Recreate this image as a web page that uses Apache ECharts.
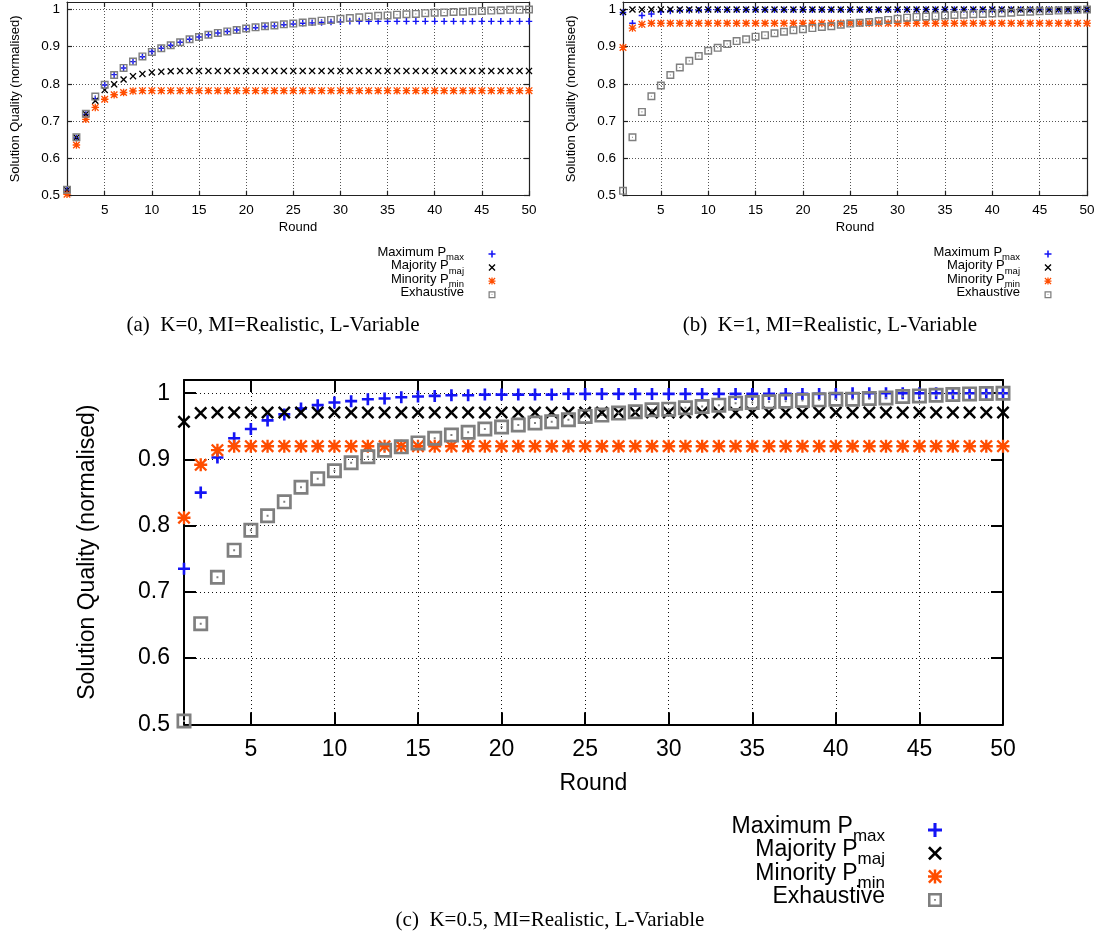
<!DOCTYPE html>
<html>
<head>
<meta charset="utf-8">
<title>Solution quality per round</title>
<script src="https://cdn.jsdelivr.net/npm/echarts@6.0.0/dist/echarts.min.js"></script>
<style>
  html, body { margin: 0; padding: 0; background: #fff; }
  #chart { width: 1100px; height: 938px; }
</style>
</head>
<body>
<div id="chart"></div>
<script>
// ============================================================
//  data
// ============================================================
const rounds = [
  1, 2, 3, 4, 5, 6, 7, 8, 9, 10,
  11, 12, 13, 14, 15, 16, 17, 18, 19, 20,
  21, 22, 23, 24, 25, 26, 27, 28, 29, 30,
  31, 32, 33, 34, 35, 36, 37, 38, 39, 40,
  41, 42, 43, 44, 45, 46, 47, 48, 49, 50
];
const xTicks = [5, 10, 15, 20, 25, 30, 35, 40, 45, 50];
const yTicks = [0.5, 0.6, 0.7, 0.8, 0.9, 1];
const seriesNames = ['Maximum P_max', 'Majority P_maj', 'Minority P_min', 'Exhaustive'];
const captions = [
  '(a)  K=0, MI=Realistic, L-Variable',
  '(b)  K=1, MI=Realistic, L-Variable',
  '(c)  K=0.5, MI=Realistic, L-Variable'
];

// (a) K=0
const maxK0 = [
  0.515, 0.655, 0.718, 0.760, 0.797, 0.825, 0.843, 0.860, 0.873, 0.887,
  0.896, 0.904, 0.912, 0.920, 0.926, 0.932, 0.937, 0.941, 0.945, 0.948,
  0.951, 0.954, 0.956, 0.959, 0.961, 0.963, 0.964, 0.965, 0.966, 0.967,
  0.968, 0.968, 0.968, 0.968, 0.968, 0.968, 0.968, 0.968, 0.968, 0.968,
  0.968, 0.968, 0.968, 0.968, 0.968, 0.968, 0.968, 0.968, 0.968, 0.968
];
const majK0 = [
  0.515, 0.656, 0.719, 0.755, 0.784, 0.799, 0.812, 0.821, 0.827, 0.831,
  0.833, 0.834, 0.835, 0.835, 0.835, 0.835, 0.835, 0.835, 0.835, 0.835,
  0.835, 0.835, 0.835, 0.835, 0.835, 0.835, 0.835, 0.835, 0.835, 0.835,
  0.835, 0.835, 0.835, 0.835, 0.835, 0.835, 0.835, 0.835, 0.835, 0.835,
  0.835, 0.835, 0.835, 0.835, 0.835, 0.835, 0.835, 0.835, 0.835, 0.835
];
const minK0 = [
  0.504, 0.636, 0.705, 0.737, 0.759, 0.771, 0.777, 0.781, 0.782, 0.782,
  0.782, 0.782, 0.782, 0.782, 0.782, 0.782, 0.782, 0.782, 0.782, 0.782,
  0.782, 0.782, 0.782, 0.782, 0.782, 0.782, 0.782, 0.782, 0.782, 0.782,
  0.782, 0.782, 0.782, 0.782, 0.782, 0.782, 0.782, 0.782, 0.782, 0.782,
  0.782, 0.782, 0.782, 0.782, 0.782, 0.782, 0.782, 0.782, 0.782, 0.782
];
const exhK0 = [
  0.516, 0.657, 0.720, 0.766, 0.798, 0.824, 0.843, 0.860, 0.874, 0.886,
  0.896, 0.904, 0.912, 0.920, 0.926, 0.932, 0.937, 0.941, 0.945, 0.949,
  0.952, 0.955, 0.957, 0.960, 0.962, 0.965, 0.967, 0.970, 0.972, 0.975,
  0.977, 0.979, 0.981, 0.983, 0.984, 0.986, 0.987, 0.988, 0.990, 0.991,
  0.992, 0.993, 0.994, 0.995, 0.996, 0.997, 0.998, 0.999, 0.999, 1.000
];

// (b) K=1
const maxK1 = [
  0.992, 0.963, 0.984, 0.988, 0.994, 0.996, 0.997, 0.998, 0.998, 0.999,
  0.999, 0.999, 0.999, 0.999, 0.999, 0.999, 0.999, 0.999, 0.999, 0.999,
  0.999, 0.999, 0.999, 0.999, 0.999, 0.999, 0.999, 0.999, 0.999, 0.999,
  1.000, 1.000, 1.000, 1.000, 1.000, 1.000, 1.000, 1.000, 1.000, 1.000,
  1.000, 1.000, 1.000, 1.000, 1.000, 1.000, 1.000, 1.000, 1.000, 1.000
];
const majK1 = [
  0.993, 1.000, 1.000, 1.000, 1.000, 1.000, 1.000, 1.000, 1.000, 1.000,
  1.000, 1.000, 1.000, 1.000, 1.000, 1.000, 1.000, 1.000, 1.000, 1.000,
  1.000, 1.000, 1.000, 1.000, 1.000, 1.000, 1.000, 1.000, 1.000, 1.000,
  1.000, 1.000, 1.000, 1.000, 1.000, 1.000, 1.000, 1.000, 1.000, 1.000,
  1.000, 1.000, 1.000, 1.000, 1.000, 1.000, 1.000, 1.000, 1.000, 1.000
];
const minK1 = [
  0.898, 0.950, 0.960, 0.963, 0.963, 0.963, 0.963, 0.963, 0.963, 0.963,
  0.963, 0.963, 0.963, 0.963, 0.963, 0.963, 0.963, 0.963, 0.963, 0.963,
  0.963, 0.963, 0.963, 0.963, 0.963, 0.963, 0.963, 0.963, 0.963, 0.963,
  0.963, 0.963, 0.963, 0.963, 0.963, 0.963, 0.963, 0.963, 0.963, 0.963,
  0.963, 0.963, 0.963, 0.963, 0.963, 0.963, 0.963, 0.963, 0.963, 0.963
];
const exhK1 = [
  0.513, 0.657, 0.725, 0.767, 0.796, 0.824, 0.844, 0.862, 0.875, 0.889,
  0.897, 0.907, 0.915, 0.920, 0.927, 0.931, 0.936, 0.940, 0.944, 0.947,
  0.950, 0.953, 0.955, 0.959, 0.962, 0.964, 0.966, 0.969, 0.972, 0.975,
  0.978, 0.980, 0.981, 0.982, 0.984, 0.985, 0.986, 0.987, 0.988, 0.989,
  0.990, 0.991, 0.993, 0.994, 0.995, 0.996, 0.997, 0.998, 0.999, 1.000
];

// (c) K=0.5
const maxK05 = [
  0.735, 0.850, 0.903, 0.932, 0.946, 0.959, 0.968, 0.977, 0.982, 0.986,
  0.988, 0.991, 0.992, 0.994, 0.995, 0.996, 0.997, 0.997, 0.998, 0.998,
  0.998, 0.998, 0.998, 0.999, 0.999, 0.999, 0.999, 0.999, 0.999, 0.999,
  0.999, 0.999, 0.999, 0.999, 0.999, 0.999, 0.999, 0.999, 0.999, 0.999,
  1.000, 1.000, 1.000, 1.000, 1.000, 1.000, 1.000, 1.000, 1.000, 1.000
];
const majK05 = [
  0.957, 0.970, 0.971, 0.971, 0.971, 0.971, 0.971, 0.971, 0.971, 0.971,
  0.971, 0.971, 0.971, 0.971, 0.971, 0.971, 0.971, 0.971, 0.971, 0.971,
  0.971, 0.971, 0.971, 0.971, 0.971, 0.971, 0.971, 0.971, 0.971, 0.971,
  0.971, 0.971, 0.971, 0.971, 0.971, 0.971, 0.971, 0.971, 0.971, 0.971,
  0.971, 0.971, 0.971, 0.971, 0.971, 0.971, 0.971, 0.971, 0.971, 0.971
];
const minK05 = [
  0.812, 0.892, 0.914, 0.920, 0.920, 0.920, 0.920, 0.920, 0.920, 0.920,
  0.920, 0.920, 0.920, 0.920, 0.920, 0.920, 0.920, 0.920, 0.920, 0.920,
  0.920, 0.920, 0.920, 0.920, 0.920, 0.920, 0.920, 0.920, 0.920, 0.920,
  0.920, 0.920, 0.920, 0.920, 0.920, 0.920, 0.920, 0.920, 0.920, 0.920,
  0.920, 0.920, 0.920, 0.920, 0.920, 0.920, 0.920, 0.920, 0.920, 0.920
];
const exhK05 = [
  0.505, 0.652, 0.722, 0.763, 0.793, 0.815, 0.836, 0.858, 0.871, 0.883,
  0.895, 0.904, 0.914, 0.919, 0.925, 0.932, 0.937, 0.941, 0.946, 0.949,
  0.952, 0.955, 0.957, 0.960, 0.965, 0.967, 0.970, 0.972, 0.975, 0.976,
  0.978, 0.980, 0.982, 0.985, 0.986, 0.987, 0.988, 0.989, 0.990, 0.991,
  0.991, 0.992, 0.993, 0.995, 0.996, 0.997, 0.998, 0.999, 0.9995, 1.000
];

// ============================================================
//  styles
// ============================================================
const SANS = '"Liberation Sans", Arial, Helvetica, sans-serif';
const SERIF = '"Liberation Serif", "Times New Roman", serif';
const COLORS = ['#1414f5', '#000000', '#ff4d00', '#7f7f7f'];

// gnuplot-like point types, all drawn as filled outlines in a 20x20 box
const SYMBOLS = [
  'path://M7.8,0H12.2V7.8H20V12.2H12.2V20H7.8V12.2H0V7.8H7.8Z',
  'path://M0,2.7L2.7,0L10,7.3L17.3,0L20,2.7L12.7,10L20,17.3L17.3,20L10,12.7L2.7,20L0,17.3L7.3,10Z',
  'path://M8.2,0H11.8V8.2H20V11.8H11.8V20H8.2V11.8H0V8.2H8.2Z M0,2.5L2.5,0L10,7.5L17.5,0L20,2.5L12.5,10L20,17.5L17.5,20L10,12.5L2.5,20L0,17.5L7.5,10Z',
  'path://M0,0H20V20H0Z M3.6,3.6V16.4H16.4V3.6Z M8.7,8.7H11.3V11.3H8.7Z'
];

const SMALL = {
  font: 13.5, nameFont: 13, yMargin: 7, xMargin: 7.5, xNameGap: 25.5, yNameGap: 45.5,
  tickLen: 5, axisWidth: 1.2, axisColor: '#222', gridColor: '#555', dash: [1, 2],
  symbolSize: [6.5, 7, 7.5, 8],
  legendFont: 13, subFont: 9.5, subPad: 7, mainPad: 3.5, itemW: 46, itemH: 7, itemGap: -3.2
};
const BIG = {
  font: 23, nameFont: 23, yMargin: 14, xMargin: 13.5, xNameGap: 47.5, yNameGap: 84.5,
  tickLen: 12, axisWidth: 2, axisColor: '#000', gridColor: '#111', dash: [1, 3],
  symbolSize: [12, 13, 13, 15],
  legendFont: 23, subFont: 17, subPad: 12.5, mainPad: 6.5, itemW: 90, itemH: 14, itemGap: -6.2
};

const panels = [
  { values: [maxK0, majK0, minK0, exhK0], s: SMALL,
    grid: { left: 67, top: 2, width: 462, height: 193.7 },
    legend: { right: 604.5, top: 245.75 }, cap: { x: 273, y: 314.5 } },
  { values: [maxK1, majK1, minK1, exhK1], s: SMALL,
    grid: { left: 623, top: 2, width: 464, height: 193.7 },
    legend: { right: 48.5, top: 245.75 }, cap: { x: 830, y: 314.5 } },
  { values: [maxK05, majK05, minK05, exhK05], s: BIG,
    grid: { left: 184, top: 380, width: 819, height: 344.3 },
    legend: { right: 158, top: 815.25 }, cap: { x: 550, y: 909.5 } }
];

// ============================================================
//  option
// ============================================================
function legendLabel(name) {
  const p = name.split('_');
  return p.length > 1 ? '{t|' + p[0] + '}{s|' + p[1] + '}' : '{t|' + name + '}';
}

function axisBase(s, ticks) {
  return {
    type: 'value',
    axisLine: { show: true, onZero: false, lineStyle: { color: s.axisColor, width: s.axisWidth } },
    axisTick: { show: true, inside: true, length: s.tickLen, customValues: ticks,
      lineStyle: { color: s.axisColor, width: s.axisWidth } }
  };
}

const option = {
  animation: false,
  backgroundColor: '#fff',
  grid: [], xAxis: [], yAxis: [], series: [], legend: [], title: []
};

panels.forEach((p, i) => {
  const s = p.s;
  option.grid.push(Object.assign({ containLabel: false, show: false }, p.grid));

  option.xAxis.push(Object.assign(axisBase(s, xTicks), {
    gridIndex: i, min: 1, max: 50, position: 'bottom',
    name: 'Round', nameLocation: 'middle', nameGap: s.xNameGap,
    nameTextStyle: { color: '#000', fontFamily: SANS, fontSize: s.nameFont },
    axisLabel: { customValues: xTicks, margin: s.xMargin, color: '#000', fontFamily: SANS, fontSize: s.font },
    splitLine: { show: true, lineStyle: { color: s.gridColor, width: 1, type: s.dash } }
  }));
  option.xAxis.push(Object.assign(axisBase(s, xTicks), {
    gridIndex: i, min: 1, max: 50, position: 'top',
    axisLabel: { show: false }, splitLine: { show: false }
  }));

  option.yAxis.push(Object.assign(axisBase(s, yTicks), {
    gridIndex: i, min: 0.5, max: 1.02, position: 'left',
    name: 'Solution Quality (normalised)', nameLocation: 'middle', nameGap: s.yNameGap,
    nameTextStyle: { color: '#000', fontFamily: SANS, fontSize: s.nameFont },
    axisLabel: { customValues: yTicks, margin: s.yMargin, color: '#000', fontFamily: SANS, fontSize: s.font },
    splitLine: { show: true, lineStyle: { color: s.gridColor, width: 1, type: s.dash } }
  }));
  option.yAxis.push(Object.assign(axisBase(s, yTicks), {
    gridIndex: i, min: 0.5, max: 1.02, position: 'right',
    axisLabel: { show: false }, splitLine: { show: false }
  }));

  p.values.forEach((vals, j) => {
    option.series.push({
      type: 'scatter',
      name: seriesNames[j],
      xAxisIndex: 2 * i,
      yAxisIndex: 2 * i,
      data: rounds.map((r, k) => [r, vals[k]]),
      symbol: SYMBOLS[j],
      symbolSize: s.symbolSize[j],
      itemStyle: { color: COLORS[j], opacity: 1 },
      emphasis: { disabled: true },
      clip: false
    });
  });

  option.legend.push({
    data: seriesNames,
    orient: 'vertical',
    align: 'right',
    right: p.legend.right,
    top: p.legend.top,
    padding: 0,
    itemWidth: s.itemW,
    itemHeight: s.itemH,
    itemGap: s.itemGap,
    selectedMode: false,
    formatter: legendLabel,
    textStyle: {
      color: '#000', fontFamily: SANS, fontSize: s.legendFont,
      rich: {
        t: { color: '#000', fontFamily: SANS, fontSize: s.legendFont, padding: [0, 0, s.mainPad, 0] },
        s: { color: '#000', fontFamily: SANS, fontSize: s.subFont, padding: [s.subPad, 0, 0, 0] }
      }
    }
  });

  option.title.push({
    text: captions[i],
    left: p.cap.x,
    top: p.cap.y,
    textAlign: 'center',
    padding: 0,
    textStyle: { fontFamily: SERIF, fontSize: 21, fontWeight: 'normal', color: '#000' }
  });
});

const chart = echarts.init(document.getElementById('chart'), null, { renderer: 'canvas' });
chart.setOption(option);
</script>
</body>
</html>
